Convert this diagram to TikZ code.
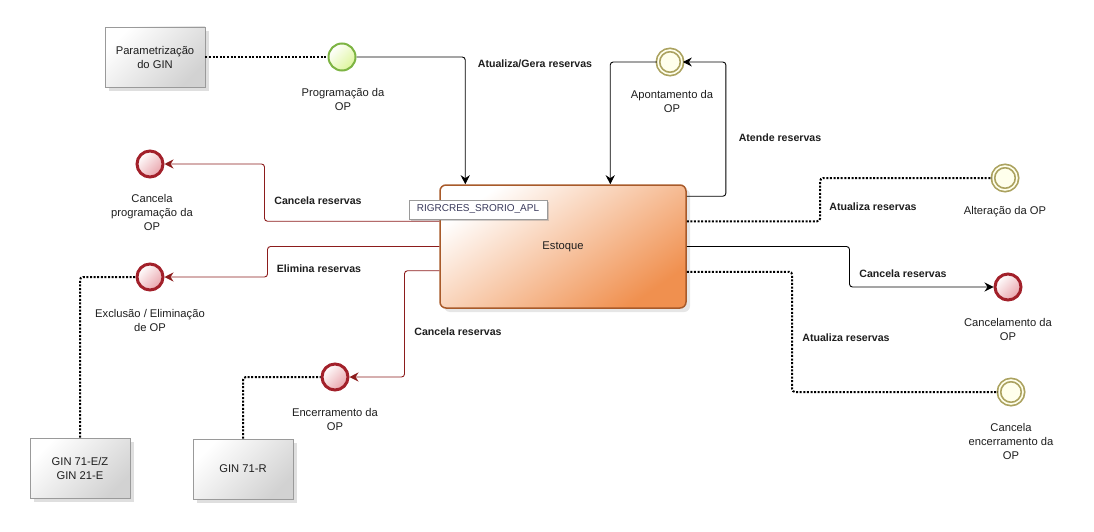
\documentclass[tikz,border=0pt]{standalone}
\usepackage{fontspec}
\setmainfont{Liberation Sans}
\usetikzlibrary{arrows.meta,calc,shadows,positioning}
\definecolor{txt}{HTML}{1E1E1E}
\definecolor{redring}{HTML}{A2202A}
\definecolor{redline}{HTML}{8C1C1C}
\definecolor{redfill}{HTML}{E9A3AA}
\definecolor{redmid}{HTML}{F4CDD1}
\definecolor{greenring}{HTML}{7DB443}
\definecolor{greenfill}{HTML}{DDF59A}
\definecolor{olivering}{HTML}{ABA25F}
\definecolor{olivefill}{HTML}{FFFFEC}
\definecolor{estborder}{HTML}{A85A2A}
\definecolor{estfill}{HTML}{F0904F}
\definecolor{estmid}{HTML}{FADAC5}
\definecolor{grayborder}{HTML}{9A9A9A}
\definecolor{grayfill}{HTML}{D2D2D2}
\definecolor{rigtxt}{HTML}{3A3A5C}
\begin{document}
\begin{tikzpicture}[x=1pt,y=-1pt,
  every node/.style={text=txt},
  regfont/.style={font=\fontsize{11.2}{14}\selectfont},
  boldfont/.style={font=\fontsize{10.6}{13}\selectfont\bfseries},
  evlabel/.style={regfont,align=center,inner sep=0pt},
  flowlabel/.style={boldfont,inner sep=0pt},
  graybox/.style={draw=grayborder,line width=0.8pt,shading=axis,top color=white,bottom color=grayfill,shading angle=45,
    minimum width=100pt,minimum height=60pt,align=center,regfont,
    drop shadow={opacity=0.25,shadow xshift=4pt,shadow yshift=-4pt}},
  startev/.style={circle,draw=greenring,line width=2pt,shading=axis,top color=white,bottom color=greenfill,shading angle=45,minimum size=27pt,inner sep=0pt},
  midev/.style={circle,draw=olivering,line width=1.7pt,double=olivefill,double distance=1.6pt,fill=olivefill,minimum size=24pt,inner sep=0pt},
  endev/.style={circle,draw=redring,line width=3pt,shading=axis,top color=white,middle color=redmid,bottom color=redfill,shading angle=45,minimum size=26pt,inner sep=0pt},
  flow/.style={draw=black,line width=0.9pt,rounded corners=3pt,-{Stealth[length=9pt,width=9pt,inset=3pt]}},
  redflow/.style={draw=redline,line width=0.9pt,rounded corners=3pt,-{Stealth[length=9pt,width=9pt,inset=3pt]}},
  assoc/.style={draw=black,line width=2pt,dash pattern=on 2pt off 1.6pt,rounded corners=3pt}
]
\useasboundingbox (0,0) rectangle (1094,532);

% boxes
\node[graybox] (prm) at (155,57) {Parametrização\\do GIN};
\node[graybox] (gina) at (80,468) {GIN 71-E/Z\\GIN 21-E};
\node[graybox] (ginb) at (243,469) {GIN 71-R};
\node[draw=estborder,line width=1.5pt,rounded corners=6pt,shading=axis,top color=white,middle color=estmid,bottom color=estfill,shading angle=35,
  minimum width=246pt,minimum height=123pt,regfont,
  drop shadow={opacity=0.2,shadow xshift=4pt,shadow yshift=-4pt}] (est) at (563,246.5) {Estoque};
\node[draw=grayborder,line width=0.8pt,fill=white,minimum width=138pt,minimum height=19pt,inner sep=0pt,
  font=\fontsize{10}{12}\selectfont,text=rigtxt,
  drop shadow={opacity=0.35,shadow xshift=2pt,shadow yshift=-2pt}] (rig) at (478,209.5) {RIGRCRES\_SRORIO\_APL};

% events
\node[startev] (prog) at (342,57) {};
\node[midev] (apont) at (670,62) {};
\node[midev] (alt) at (1005,178) {};
\node[endev] (canc) at (1008,287) {};
\node[midev] (cenc) at (1011,392) {};
\node[endev] (cprog) at (150,164) {};
\node[endev] (excl) at (150,277) {};
\node[endev] (encer) at (335,377) {};

% event labels
\node[evlabel] (lprog) at (343,99) {Programação da\\OP};
\node[evlabel] (lapont) at (672,101) {Apontamento da\\OP};
\node[evlabel] (lalt) at (1005,212) {Alteração da OP};
\node[evlabel] (lcanc) at (1008,329) {Cancelamento da\\OP};
\node[evlabel] (lcenc) at (1011,441) {Cancela\\encerramento da\\OP};
\node[evlabel] (lcprog) at (152,212) {Cancela\\programação da\\OP};
\node[evlabel] (lexcl) at (150,320) {Exclusão / Eliminação\\de OP};
\node[evlabel] (lencer) at (335,419) {Encerramento da\\OP};

% connectors
\draw[assoc] (prm.east) -- (prog.west);
\draw[flow] (prog.east) -| ($(est.north west)+(26,0)$);
\draw[flow] (apont.west) -| ($(est.north west)+(171,0)$);
\draw[flow] ($(est.north east)+(0,12)$) -| ($(apont.east)+(43,0)$) -- (apont.east);
\draw[assoc] ($(est.north east)+(0,37)$) -| ($(alt.west)+(-172,0)$) -- (alt.west);
\draw[flow] (est.east) -| ($(canc.west)+(-144,0)$) -- (canc.west);
\draw[assoc] ($(est.south east)+(0,-37)$) -| ($(cenc.west)+(-206,0)$) -- (cenc.west);
\draw[redflow] ($(est.north west)+(0,37)$) -| ($(cprog.east)+(100,0)$) -- (cprog.east);
\draw[redflow] (est.west) -| ($(excl.east)+(103,0)$) -- (excl.east);
\draw[redflow] ($(est.south west)+(0,-38)$) -| ($(encer.east)+(55,0)$) -- (encer.east);
\draw[assoc] (gina.north) |- (excl.west);
\draw[assoc] (ginb.north) |- (encer.west);

% flow labels
\node[flowlabel] (f1) at (535,64) {Atualiza/Gera reservas};
\node[flowlabel] (f2) at (780,138) {Atende reservas};
\node[flowlabel] (f3) at (873,207) {Atualiza reservas};
\node[flowlabel] (f4) at (903,274) {Cancela reservas};
\node[flowlabel] (f5) at (846,338) {Atualiza reservas};
\node[flowlabel] (f6) at (318,201) {Cancela reservas};
\node[flowlabel] (f7) at (319,269) {Elimina reservas};
\node[flowlabel] (f8) at (458,332) {Cancela reservas};
\end{tikzpicture}
\end{document}
